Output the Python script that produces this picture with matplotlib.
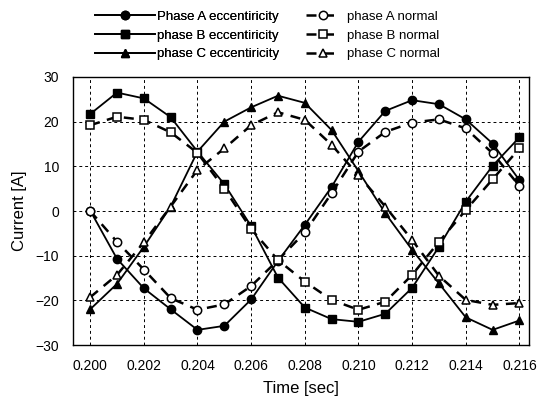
import matplotlib
matplotlib.use("Agg")
import matplotlib.pyplot as plt

plt.rcParams['font.family'] = ['Liberation Sans', 'DejaVu Sans']

time = [0.200, 0.201, 0.202, 0.203, 0.204, 0.205, 0.206, 0.207, 0.208,
        0.209, 0.210, 0.211, 0.212, 0.213, 0.214, 0.215, 0.216]

a_ecc = [0.1, -10.7, -17.3, -22.0, -26.6, -25.7, -19.8, -11.2, -3.1,
         5.4, 15.5, 22.4, 24.8, 23.9, 20.5, 15.1, 6.9]
b_ecc = [21.7, 26.5, 25.2, 21.0, 13.3, 6.0, -3.4, -14.9, -21.6,
         -24.2, -24.8, -23.0, -17.2, -8.0, 2.1, 10.1, 16.5]
c_ecc = [-22.0, -16.3, -8.0, 1.0, 13.3, 20.0, 23.2, 25.8, 24.2,
         18.1, 8.9, -0.5, -8.7, -16.2, -23.8, -26.6, -24.5]

a_norm = [0.0, -6.9, -13.1, -19.5, -22.1, -20.9, -16.8, -11.0, -4.8,
          4.0, 13.3, 17.7, 19.8, 20.5, 18.5, 12.9, 5.6]
b_norm = [19.2, 21.1, 20.4, 17.6, 13.0, 5.0, -4.0, -11.0, -15.8,
          -19.9, -22.1, -20.3, -14.3, -6.9, 0.2, 7.1, 14.0]
c_norm = [-19.3, -14.3, -7.0, 1.0, 9.2, 14.0, 19.2, 22.1, 20.4,
          14.8, 8.0, 1.0, -6.5, -14.5, -19.9, -21.0, -20.6]

ecc_labels = ["Phase A eccentiricity", "phase B eccentiricity", "phase C eccentiricity"]
norm_labels = ["phase A normal", "phase B normal", "phase C normal"]
markers = ['o', 's', '^']

xticks = [0.200, 0.202, 0.204, 0.206, 0.208, 0.210, 0.212, 0.214, 0.216]
yticks = [-30, -20, -10, 0, 10, 20, 30]

fig = plt.figure(figsize=(5.42, 4.05), dpi=100)
ax = fig.add_axes([0.1347, 0.148, 0.842, 0.662])

ecc_handles = []
for ys, m, lab in zip([a_ecc, b_ecc, c_ecc], markers, ecc_labels):
    h, = ax.plot(time, ys, color='black', lw=1.3, marker=m, ms=6,
                 mfc='black', mec='black', label=lab)
    ecc_handles.append(h)
norm_handles = []
for ys, m, lab in zip([a_norm, b_norm, c_norm], markers, norm_labels):
    h, = ax.plot(time, ys, color='black', lw=1.8, ls=(0, (4, 3)), marker=m, ms=6,
                 mfc='white', mec='black', mew=1.1, label=lab)
    norm_handles.append(h)

ax.set_xlim(0.19936, 0.21637)
ax.set_ylim(-30, 30)
ax.set_xticks(xticks)
ax.set_xticklabels([f"{t:.3f}" for t in xticks])
ax.set_yticks(yticks)
ax.tick_params(length=0, labelsize=10, pad=10)
ax.grid(True, color='black', ls=(0, (3, 3)), lw=0.7)
for s in ax.spines.values():
    s.set_linewidth(1.0)

ax.set_xlabel("Time [sec]", fontsize=12, labelpad=6)
ax.set_ylabel("Current [A]", fontsize=12, labelpad=6)

leg1 = fig.legend(handles=ecc_handles, loc='upper left', bbox_to_anchor=(0.155, 1.0),
                  frameon=False, fontsize=9.5, handlelength=4.6,
                  labelspacing=0.5, handletextpad=0.15, borderpad=0.3)
fig.add_artist(leg1)
fig.legend(handles=norm_handles, loc='upper left', bbox_to_anchor=(0.545, 1.0),
           frameon=False, fontsize=9.5, handlelength=2.6,
           labelspacing=0.5, handletextpad=0.5, borderpad=0.3)

fig.savefig("out.png", dpi=100)
